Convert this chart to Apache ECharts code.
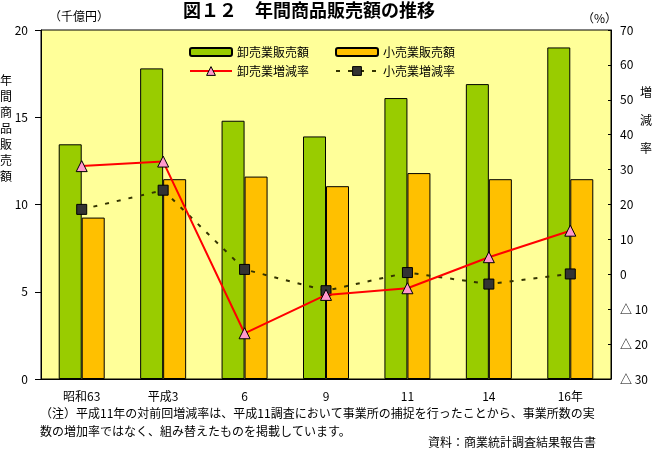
<!DOCTYPE html>
<html>
<head>
<meta charset="utf-8">
<script src="https://cdn.jsdelivr.net/npm/echarts@6/dist/echarts.min.js"></script>
<style>
html,body{margin:0;padding:0;background:#fff;}
#c{width:652px;height:449px;}
</style>
</head>
<body>
<div id="c"></div>
<script>
const categories = ['昭和63', '平成3', '6', '9', '11', '14', '16年'];
const wholesaleSales = [13.45, 17.8, 14.8, 13.9, 16.1, 16.9, 19.0];
const retailSales = [9.25, 11.45, 11.6, 11.05, 11.8, 11.45, 11.45];
const wholesaleRate = [31.0, 32.3, -16.9, -5.9, -4.0, 4.9, 12.5];
const retailRate = [18.6, 24.1, 1.4, -4.7, 0.5, -2.8, 0.1];
const leftTicks = {min: 0, max: 20, interval: 5};
const rightTicks = {min: -30, max: 70, interval: 10};

const FONT = '"Noto Sans CJK JP", "Noto Sans", sans-serif';
const chart = echarts.init(document.getElementById('c'), null, {renderer: 'canvas'});
chart.setOption({
  backgroundColor: '#ffffff',
  animation: false,
  textStyle: {fontFamily: FONT, color: '#000'},
  title: [
    {text: '図１２　年間商品販売額の推移', left: 183, top: 1, padding: 0,
     textStyle: {fontFamily: FONT, fontSize: 18, fontWeight: 'bold', color: '#000'}},
    {text: '年\n間\n商\n品\n販\n売\n額', left: 0, top: 72, padding: 0,
     textStyle: {fontFamily: FONT, fontSize: 12, fontWeight: 'normal', lineHeight: 16, color: '#000'}},
    {text: '増\n減\n率', left: 640, top: 78, padding: 0,
     textStyle: {fontFamily: FONT, fontSize: 12, fontWeight: 'normal', lineHeight: 28, color: '#000'}},
    {text: '（注）平成11年の対前回増減率は、平成11調査において事業所の捕捉を行ったことから、事業所数の実\n数の増加率ではなく、組み替えたものを掲載しています。',
     left: 40, top: 404, padding: 0,
     textStyle: {fontFamily: FONT, fontSize: 12, fontWeight: 'normal', lineHeight: 18.5, color: '#000'}},
    {text: '資料：商業統計調査結果報告書', right: 56, top: 436, padding: 0,
     textStyle: {fontFamily: FONT, fontSize: 12, fontWeight: 'normal', color: '#000'}}
  ],
  legend: [
    {data: ['卸売業販売額', '小売業販売額'], left: 189, top: 46, padding: 0, itemWidth: 42, itemHeight: 8,
     itemGap: 26, textStyle: {fontFamily: FONT, fontSize: 12, color: '#000'}},
    {data: [
      {name: '卸売業増減率', itemStyle: {color: '#ff99cc', borderColor: '#000', borderWidth: 1}},
      {name: '小売業増減率', itemStyle: {color: '#333333', borderColor: '#000', borderWidth: 1}}
     ], left: 189, top: 65, padding: 0, itemWidth: 42, itemHeight: 11,
     itemGap: 26, textStyle: {fontFamily: FONT, fontSize: 12, color: '#000'}}
  ],
  grid: {left: 41, right: 41, top: 30, bottom: 70, show: true, backgroundColor: '#ffff99',
         borderColor: '#000', borderWidth: 1, containLabel: false},
  xAxis: {
    type: 'category', data: categories,
    axisLine: {lineStyle: {color: '#000', width: 1}},
    axisTick: {inside: true, length: 3, lineStyle: {color: '#000'}},
    axisLabel: {fontFamily: FONT, fontSize: 12, color: '#000', margin: 11}
  },
  yAxis: [
    {type: 'value', min: leftTicks.min, max: leftTicks.max, interval: leftTicks.interval,
     name: '（千億円）', nameLocation: 'end', nameGap: 8,
     nameTextStyle: {fontFamily: FONT, fontSize: 12, color: '#000', align: 'left', padding: [0, 0, 0, 8]},
     axisLine: {show: true, lineStyle: {color: '#000'}},
     axisTick: {show: true, length: 6, lineStyle: {color: '#000'}},
     axisLabel: {fontFamily: FONT, fontSize: 12, color: '#000', margin: 13},
     splitLine: {show: false}},
    {type: 'value', min: rightTicks.min, max: rightTicks.max, interval: rightTicks.interval,
     name: '（%）', nameLocation: 'end', nameGap: 6,
     nameTextStyle: {fontFamily: FONT, fontSize: 12, color: '#000', align: 'right', padding: [0, -6, 0, 0]},
     axisLine: {show: true, lineStyle: {color: '#000'}},
     axisTick: {show: true, inside: true, length: 3, lineStyle: {color: '#000'}},
     axisLabel: {fontFamily: FONT, fontSize: 12, color: '#000', margin: 9,
       formatter: v => v < 0 ? '△ ' + Math.abs(v) : String(v)},
     splitLine: {show: false}}
  ],
  series: [
    {name: '卸売業販売額', type: 'bar', data: wholesaleSales, barWidth: 23, barGap: '0%',
     itemStyle: {color: '#99cc00', borderColor: '#000', borderWidth: 1}},
    {name: '小売業販売額', type: 'bar', data: retailSales, barWidth: 23, barGap: '0%',
     itemStyle: {color: '#ffc000', borderColor: '#000', borderWidth: 1}},
    {name: '卸売業増減率', type: 'line', yAxisIndex: 1, data: wholesaleRate,
     symbol: 'triangle', symbolSize: 11,
     lineStyle: {color: '#ff0000', width: 2},
     itemStyle: {color: '#ff99cc', borderColor: '#000', borderWidth: 1}, z: 5},
    {name: '小売業増減率', type: 'line', yAxisIndex: 1, data: retailRate,
     symbol: 'rect', symbolSize: 10,
     lineStyle: {color: '#333300', width: 2, type: [4, 8]},
     itemStyle: {color: '#333333', borderColor: '#000', borderWidth: 1}, z: 4}
  ]
});
</script>
</body>
</html>
